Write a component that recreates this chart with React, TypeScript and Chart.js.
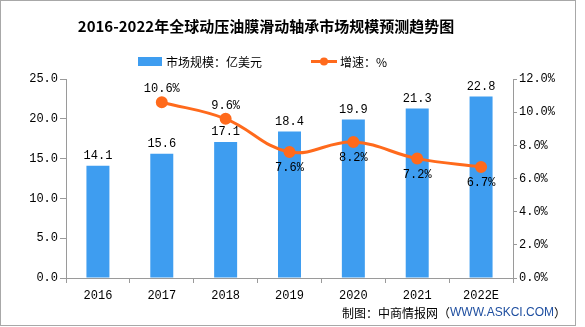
import React, { useEffect, useRef } from "react";
import { Chart, registerables } from "chart.js";

Chart.register(...registerables);

const categories = ["2016", "2017", "2018", "2019", "2020", "2021", "2022E"];
const marketSize = [14.1, 15.6, 17.1, 18.4, 19.9, 21.3, 22.8];
const growthRate: (number | null)[] = [null, 10.6, 9.6, 7.6, 8.2, 7.2, 6.7];
const growthLabelSide = ["", "above", "above", "below", "below", "below", "below"];

const titleText = "2016-2022年全球动压油膜滑动轴承市场规模预测趋势图";
const barLegend = "市场规模：亿美元";
const lineLegend = "增速：%";
const footerPrefix = "制图：中商情报网（";
const footerUrl = "WWW.ASKCI.COM";
const footerSuffix = "）";

const BLUE = "#3E9DF0";
const ORANGE = "#FF6A1C";
const AXIS = "#9a9a9a";
const MONO = '"Liberation Mono", "DejaVu Sans Mono", monospace';
const CJK = '"Noto Sans CJK SC", "Noto Sans", sans-serif';

const decorPlugin = {
  id: "decor",
  afterDraw(chart: any) {
    const ctx = chart.ctx as CanvasRenderingContext2D;
    ctx.save();
    // border
    ctx.strokeStyle = "#a8a8a8";
    ctx.lineWidth = 1;
    ctx.strokeRect(0.5, 0.5, 575, 325);

    // title
    ctx.fillStyle = "#000";
    ctx.font = `bold 15px ${CJK}`;
    ctx.textAlign = "center";
    ctx.textBaseline = "middle";
    ctx.fillText(titleText, 266, 26);

    // legend
    ctx.fillStyle = BLUE;
    ctx.fillRect(138, 57, 24, 9);
    ctx.fillStyle = "#000";
    ctx.font = `12px ${CJK}`;
    ctx.textAlign = "left";
    ctx.fillText(barLegend, 166, 62);
    ctx.strokeStyle = ORANGE;
    ctx.lineWidth = 3;
    ctx.beginPath();
    ctx.moveTo(311, 61.5);
    ctx.lineTo(337, 61.5);
    ctx.stroke();
    ctx.fillStyle = ORANGE;
    ctx.beginPath();
    ctx.arc(324, 61.5, 4, 0, Math.PI * 2);
    ctx.fill();
    ctx.fillStyle = "#000";
    ctx.fillText(lineLegend, 340, 62);

    // footer
    ctx.font = `12px ${CJK}`;
    let x = 342;
    ctx.fillStyle = "#000";
    ctx.fillText(footerPrefix, x, 313);
    x += ctx.measureText(footerPrefix).width;
    ctx.font = `12px "Liberation Sans", Arial, sans-serif`;
    ctx.fillStyle = "#1f4fa0";
    ctx.fillText(footerUrl, x, 313);
    x += ctx.measureText(footerUrl).width;
    ctx.font = `12px ${CJK}`;
    ctx.fillStyle = "#000";
    ctx.fillText(footerSuffix, x, 313);

    // data labels
    ctx.font = `12px ${MONO}`;
    ctx.textAlign = "center";
    ctx.fillStyle = "#000";
    const barMeta = chart.getDatasetMeta(0);
    barMeta.data.forEach((el: any, i: number) => {
      ctx.fillText(marketSize[i].toFixed(1), el.x, el.y - 10);
    });
    const lineMeta = chart.getDatasetMeta(1);
    lineMeta.data.forEach((el: any, i: number) => {
      const v = growthRate[i];
      if (v == null) return;
      const dy = growthLabelSide[i] === "above" ? -13 : 16;
      ctx.fillText(v.toFixed(1) + "%", el.x, el.y + dy);
    });
    ctx.restore();
  },
};

export default function App() {
  const ref = useRef<HTMLCanvasElement>(null);
  useEffect(() => {
    if (!ref.current) return;
    const tickFont = { family: MONO, size: 12 };
    const chart = new Chart(ref.current, {
      type: "bar",
      data: {
        labels: categories,
        datasets: [
          {
            type: "bar",
            label: barLegend,
            data: marketSize,
            backgroundColor: BLUE,
            yAxisID: "y",
            barPercentage: 0.9,
            categoryPercentage: 0.4,
            order: 2,
          },
          {
            type: "line",
            label: lineLegend,
            data: growthRate as any,
            borderColor: ORANGE,
            backgroundColor: ORANGE,
            borderWidth: 3,
            pointRadius: 4.5,
            pointBackgroundColor: ORANGE,
            pointBorderColor: ORANGE,
            tension: 0.4,
            yAxisID: "y1",
            order: 1,
          } as any,
        ],
      },
      options: {
        responsive: false,
        animation: false,
        devicePixelRatio: 1,
        layout: { padding: { top: 79, left: 0, right: 0, bottom: 0 } },
        plugins: { legend: { display: false }, title: { display: false }, tooltip: { enabled: false } },
        scales: {
          x: {
            grid: { display: true, drawOnChartArea: false, tickLength: 5, offset: true, color: AXIS },
            border: { display: true, color: AXIS },
            ticks: { font: tickFont, color: "#000", padding: 6 },
            afterFit: (s: any) => { s.height = 49; },
          },
          y: {
            position: "left",
            min: 0,
            max: 25,
            ticks: { stepSize: 5, font: tickFont, color: "#000", padding: 2, callback: (v: any) => Number(v).toFixed(1) },
            grid: { drawOnChartArea: false, tickLength: 6, color: AXIS },
            border: { display: true, color: AXIS },
            afterFit: (s: any) => { s.width = 66; },
          },
          y1: {
            position: "right",
            min: 0,
            max: 12,
            ticks: { stepSize: 2, font: tickFont, color: "#000", padding: 2, callback: (v: any) => Number(v).toFixed(1) + "%" },
            grid: { drawOnChartArea: false, tickLength: 4, color: AXIS },
            border: { display: true, color: AXIS },
            afterFit: (s: any) => { s.width = 72; },
          },
        },
      },
      plugins: [decorPlugin],
    } as any);
    return () => chart.destroy();
  }, []);
  return (
    <div style={{ position: "fixed", left: 0, top: 0, width: 585, height: 327, background: "#fff" }}>
      <canvas ref={ref} width={585} height={327} style={{ width: 585, height: 327 }} />
    </div>
  );
}
